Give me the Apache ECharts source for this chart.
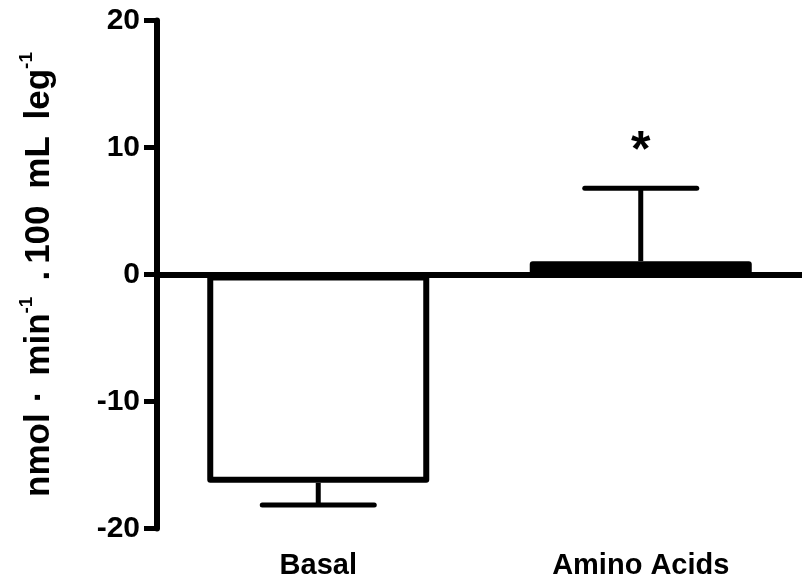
<!DOCTYPE html>
<html>
<head>
<meta charset="utf-8">
<script src="https://cdn.jsdelivr.net/npm/echarts@6/dist/echarts.min.js"></script>
<style>
  html, body { margin: 0; padding: 0; background: #fff; }
  #main { width: 802px; height: 588px; }
</style>
</head>
<body>
<div id="main"></div>
<script>
// data
var categories = ['Basal', 'Amino Acids'];
var means = [-16.4, 1.05];
var sem = [1.75, 5.75];
var marks = ['', '*'];
var yMin = -20, yMax = 20, yStep = 10;

var FONT = 'Liberation Sans, Arial, sans-serif';

var chart = echarts.init(document.getElementById('main'));

// error bar rows: [index, mean, error end, mark]
var errRows = means.map(function(m, i){
    var end = m < 0 ? m - sem[i] : m + sem[i];
    return [i, m, end, marks[i]];
});

var nameStyle = { fontFamily: FONT, fontWeight: 'bold', color: '#000' };
function big(extra){
    return Object.assign({ fontSize: 35, lineHeight: 40, verticalAlign: 'bottom' }, nameStyle, extra || {});
}

var option = {
    backgroundColor: '#fff',
    animation: false,
    grid: { left: 157, top: 20.5, width: 650, height: 508 },
    xAxis: [
        {
            // the zero line
            type: 'category',
            data: categories,
            axisLine: { onZero: true, lineStyle: { color: '#000', width: 6 } },
            axisTick: { show: false },
            axisLabel: { show: false }
        },
        {
            // labels along the bottom
            type: 'category',
            data: categories,
            position: 'bottom',
            axisLine: { show: false, onZero: false },
            axisTick: { show: false },
            axisLabel: {
                margin: 23,
                color: '#000',
                fontFamily: FONT,
                fontWeight: 'bold',
                fontSize: 29
            }
        }
    ],
    yAxis: {
        type: 'value',
        min: yMin,
        max: yMax,
        interval: yStep,
        splitLine: { show: false },
        axisLine: { show: true, lineStyle: { color: '#000', width: 6 } },
        axisTick: { show: true, length: 13, lineStyle: { color: '#000', width: 5 } },
        axisLabel: {
            margin: 17,
            color: '#000',
            fontFamily: FONT,
            fontWeight: 'bold',
            fontSize: 30
        },
        name: '{t|nmol}{d1|\u00b7}{t|min}{s|-1}{d2|.}{t|100}{g| }{t|mL}{g| }{t|leg}{s|-1}',
        nameLocation: 'middle',
        nameGap: 100,
        nameTextStyle: {
            rich: {
                t: big(),
                d1: big({ padding: [0, 15, 0, 11] }),
                d2: big({ padding: [0, 7, 0, 16] }),
                g: big({ padding: [0, 4, 0, 3] }),
                s: Object.assign({ fontSize: 19, lineHeight: 28, verticalAlign: 'top' }, nameStyle)
            }
        }
    },
    series: [
        {
            type: 'bar',
            data: means,
            barWidth: 222,
            itemStyle: {
                // thin bars close up solid black, as in the figure
                color: function(p){ return Math.abs(p.value) < 2 ? '#000' : '#fff'; },
                borderColor: '#000',
                borderWidth: 6,
                borderJoin: 'round'
            },
            z: 3
        },
        {
            type: 'custom',
            data: errRows,
            z: 4,
            renderItem: function(params, api){
                var idx = api.value(0);
                var p0 = api.coord([idx, api.value(1)]);
                var p1 = api.coord([idx, api.value(2)]);
                var half = 56;
                var children = [
                    { type: 'line', shape: { x1: p0[0], y1: p0[1], x2: p1[0], y2: p1[1] },
                      style: { stroke: '#000', lineWidth: 5 } },
                    { type: 'line', shape: { x1: p1[0] - half, y1: p1[1], x2: p1[0] + half, y2: p1[1] },
                      style: { stroke: '#000', lineWidth: 5, lineCap: 'round' } }
                ];
                var mk = errRows[params.dataIndex][3];
                if (mk) {
                    children.push({
                        type: 'text',
                        style: {
                            x: p1[0], y: p1[1] - 36,
                            text: mk,
                            fill: '#000',
                            font: 'bold 50px ' + FONT,
                            align: 'center',
                            verticalAlign: 'middle'
                        }
                    });
                }
                return { type: 'group', children: children };
            }
        }
    ]
};

chart.setOption(option);
</script>
</body>
</html>
